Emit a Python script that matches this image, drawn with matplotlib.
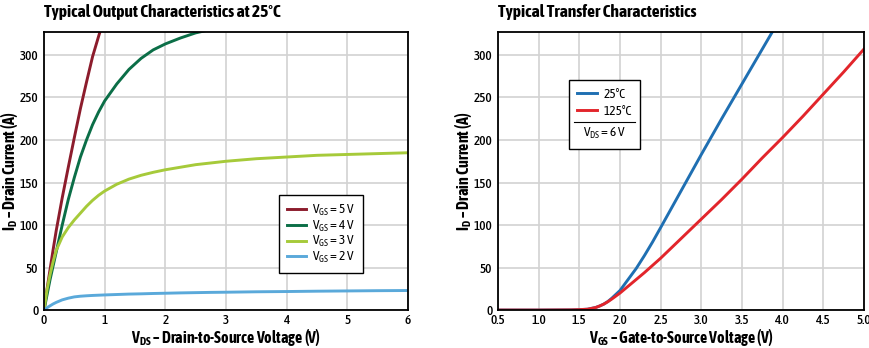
import matplotlib
matplotlib.use('Agg')
import matplotlib.pyplot as plt
from matplotlib.lines import Line2D

# Output characteristics at 25 C: drain current (A) vs drain-source voltage (V).
VDS = [0, 0.05, 0.1, 0.15, 0.2, 0.3, 0.4, 0.5, 0.6, 0.7, 0.8, 0.9, 1.0,
       1.2, 1.4, 1.6, 1.8, 2.0, 2.25, 2.5, 2.75, 3.0, 3.5, 4.0, 4.5, 5.0, 5.5, 6.0]
ID_VGS5 = [0, 25, 48, 71, 93, 132, 168, 203, 237, 268, 298, 322, 345,
           385, 420, 450, 475, 495, 515, 530, 545, 555, 570, 580, 588, 594, 598, 601]
ID_VGS4 = [0, 18, 36, 52, 68, 100, 130, 156, 180, 200, 218, 233, 246,
           266, 283, 296, 306, 313, 320, 326, 330, 333, 338, 341, 343, 345, 346, 347]
ID_VGS3 = [0, 24, 42, 57, 70, 86, 97, 106, 114, 122, 129, 135, 140,
           148, 154, 158.5, 162, 165, 168, 171, 173, 175, 178, 180, 182, 183, 184, 185]
ID_VGS2 = [0, 2.8, 5, 7.2, 9, 12, 14, 15.5, 16.3, 16.8, 17.2, 17.5, 17.8,
           18.3, 18.8, 19.1, 19.5, 19.8, 20.2, 20.5, 20.8, 21, 21.5, 21.8, 22.2, 22.5, 22.8, 23]
OUT_LABELS = ['5', '4', '3', '2']

# Transfer characteristics at VDS = 6 V: drain current (A) vs gate-source voltage (V).
VGS = [0.5, 1.0, 1.4, 1.5, 1.6, 1.65, 1.7, 1.75, 1.8, 1.85, 1.9, 1.95, 2.0,
       2.1, 2.2, 2.3, 2.4, 2.5, 2.75, 3.0, 3.25, 3.5, 3.75, 4.0, 4.25, 4.5, 4.75, 5.0]
ID_25C = [0, 0, 0.2, 0.5, 1, 2, 3, 4.8, 7, 10, 14, 18.5, 23,
          36, 49, 64, 80, 97, 140, 183, 225, 266, 307, 348, 389, 430, 471, 512]
ID_125C = [0, 0, 0.2, 0.5, 1, 2, 3, 4.8, 7, 9.8, 13, 16.5, 20,
           28, 36, 44, 52.5, 61, 84, 107, 130, 154, 179, 203, 228, 254, 280, 307]

OUT_XTICKS = [0, 1, 2, 3, 4, 5, 6]
TR_XTICKS = [0.5, 1.0, 1.5, 2.0, 2.5, 3.0, 3.5, 4.0, 4.5, 5.0]
YTICKS = [0, 50, 100, 150, 200, 250, 300]

FONT = ['Asap Condensed', 'Archivo Narrow', 'DejaVu Sans']
plt.rcParams['font.family'] = FONT
plt.rcParams['mathtext.fontset'] = 'custom'
plt.rcParams['mathtext.rm'] = 'Asap Condensed'
plt.rcParams['mathtext.bf'] = 'Asap Condensed:bold'


def style_axes(ax, xlim, xticks, xlabel):
    ax.set_xlim(*xlim)
    ax.set_ylim(0, 327)
    ax.set_xticks(xticks)
    ax.set_yticks(YTICKS)
    ax.grid(True, color='#d2d2d2', linewidth=1.2)
    ax.set_axisbelow(True)
    ax.tick_params(axis='x', length=0, pad=3, labelsize=9.5)
    ax.tick_params(axis='y', length=0, pad=4, labelsize=9.5)
    for lab in ax.get_yticklabels():
        lab.set_fontweight(500)
    for s in ax.spines.values():
        s.set_linewidth(1.3)
        s.set_color('black')
    ax.set_xlabel(xlabel, fontsize=11.5, fontweight='bold', labelpad=0)
    ax.set_ylabel(r'$\mathbf{I_D}$ – Drain Current (A)', fontsize=11.5,
                  fontweight='bold', labelpad=0)


fig = plt.figure(figsize=(8.7, 3.48), dpi=100)
ax1 = fig.add_axes([0.0506, 0.109, 0.4184, 0.799])
ax2 = fig.add_axes([0.5724, 0.109, 0.4207, 0.799])

# Left: output characteristics
out_colors = ['#8c1c2c', '#0b6e47', '#a6ca3a', '#5aa9da']
for ys, lab, c in zip([ID_VGS5, ID_VGS4, ID_VGS3, ID_VGS2], OUT_LABELS, out_colors):
    ax1.plot(VDS, ys, color=c, linewidth=2.1,
             label=r'$\mathregular{V_{GS}}$ = %s V' % lab)
style_axes(ax1, (0, 6), OUT_XTICKS,
           r'$\mathbf{V_{DS}}$ – Drain-to-Source Voltage (V)')
ax1.set_xticklabels([str(v) for v in OUT_XTICKS], fontweight=500)
ax1.set_title('Typical Output Characteristics at 25°C', loc='left',
              fontsize=12.5, fontweight='bold', pad=11)
leg1 = ax1.legend(loc='lower left', bbox_to_anchor=(0.646, 0.133),
                  borderaxespad=0, fancybox=False, framealpha=1,
                  edgecolor='black', fontsize=9.5, handlelength=1.4,
                  handletextpad=0.5, labelspacing=0.05, borderpad=0.6)
leg1.get_frame().set_linewidth(1.0)

# Right: transfer characteristics
l25, = ax2.plot(VGS, ID_25C, color='#1f6fb2', linewidth=2.1, label='25°C')
l125, = ax2.plot(VGS, ID_125C, color='#e2252b', linewidth=2.1, label='125°C')
style_axes(ax2, (0.5, 5.0), TR_XTICKS,
           r'$\mathbf{V_{GS}}$ – Gate-to-Source Voltage (V)')
ax2.set_xticklabels(['%.1f' % v for v in TR_XTICKS], fontweight=500)
ax2.set_title('Typical Transfer Characteristics', loc='left',
              fontsize=12.5, fontweight='bold', pad=11)
leg2 = ax2.legend(loc='upper left', bbox_to_anchor=(0.194, 0.827),
                  title=r'$\mathregular{V_{DS}}$ = 6 V', title_fontsize=9.5,
                  borderaxespad=0, fancybox=False, framealpha=1,
                  edgecolor='black', fontsize=9.5, handlelength=1.5,
                  handletextpad=0.5, labelspacing=0.3, borderpad=0.6)
leg2.get_frame().set_linewidth(1.0)
# put the VDS note under the entries instead of on top
leg2._legend_box.get_children().reverse()
leg2._legend_box.sep = 6

# separator line between the series rows and the VDS note
fig.canvas.draw()
r = fig.canvas.get_renderer()
fb = leg2.get_frame().get_window_extent(r)
t1 = leg2.get_texts()[1].get_window_extent(r)
tt = leg2.get_title().get_window_extent(r)
ysep = (t1.y0 + tt.y1) / 2
inv = fig.transFigure.inverted()
(x0, y0), (x1, _) = inv.transform([(fb.x0 + 5, ysep), (fb.x1 - 5, ysep)])
fig.add_artist(Line2D([x0, x1], [y0, y0], color='black', linewidth=0.8,
                      transform=fig.transFigure))

fig.savefig('out.png', dpi=100)
